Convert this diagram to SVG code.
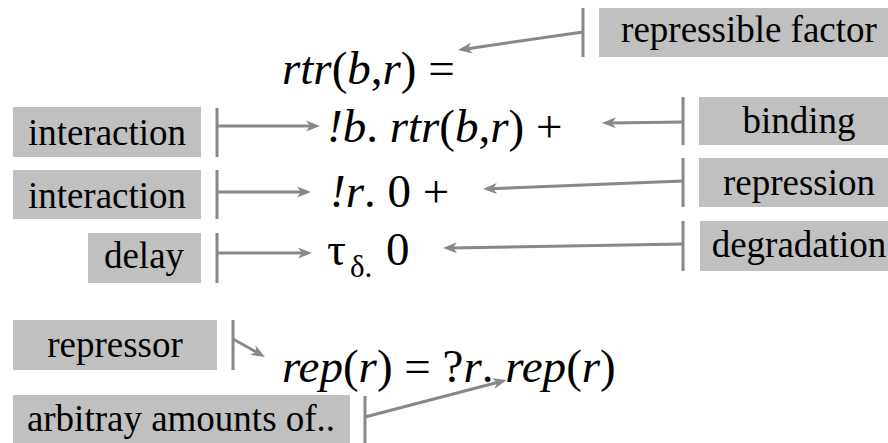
<svg xmlns="http://www.w3.org/2000/svg" width="888" height="443" viewBox="0 0 888 443">
<style>
.box{fill:#c0c0c0}
.lbl{font-family:'Liberation Serif','Times New Roman',serif;font-size:37px;fill:#000;text-anchor:middle}
.f{font-family:'Liberation Serif','Times New Roman',serif;font-size:47px;fill:#000}
.i{font-style:italic}
.c{stroke:#888;stroke-width:3;fill:none}
.a{marker-end:url(#ah)}
</style>
<defs>
<marker id="ah" markerUnits="userSpaceOnUse" markerWidth="15" markerHeight="12" refX="6" refY="6" orient="auto" viewBox="0 0 15 12">
<path d="M0,0.5 L14,6 L0,11.5 L4,6 Z" fill="#888"/>
</marker>
</defs>
<rect width="888" height="443" fill="#fff"/>

<g id="n-repressible-factor"><rect class="box" x="599" y="8" width="289" height="49"/><text class="lbl" x="749" y="42">repressible factor</text></g>
<g id="n-binding"><rect class="box" x="699" y="97" width="189" height="48"/><text class="lbl" x="799" y="133">binding</text></g>
<g id="n-repression"><rect class="box" x="699" y="158" width="189" height="49"/><text class="lbl" x="799" y="195">repression</text></g>
<g id="n-degradation"><rect class="box" x="700" y="221" width="188" height="50"/><text class="lbl" x="799" y="257">degradation</text></g>
<g id="n-interaction1"><rect class="box" x="13" y="107" width="188" height="50"/><text class="lbl" x="107" y="145">interaction</text></g>
<g id="n-interaction2"><rect class="box" x="13" y="170" width="188" height="49"/><text class="lbl" x="107" y="208">interaction</text></g>
<g id="n-delay"><rect class="box" x="88" y="233" width="113" height="50"/><text class="lbl" x="144" y="268">delay</text></g>
<g id="n-repressor"><rect class="box" x="13" y="320" width="204" height="50"/><text class="lbl" x="115" y="357">repressor</text></g>
<g id="n-arbitrary"><rect class="box" x="13" y="395" width="337" height="48"/><text class="lbl" x="181" y="431">arbitray amounts of..</text></g>

<g id="f-rtr"><text class="f" x="282" y="84"><tspan class="i">rtr</tspan>(<tspan class="i">b</tspan>,<tspan class="i">r</tspan>) =</text></g>
<g id="f-bind"><text class="f" x="327" y="142"><tspan class="i">!b</tspan>. <tspan class="i">rtr</tspan>(<tspan class="i">b</tspan>,<tspan class="i">r</tspan>) +</text></g>
<g id="f-repr"><text class="f" x="330" y="207"><tspan class="i">!r</tspan>. 0 +</text></g>
<g id="f-delay"><text class="f" y="265"><tspan x="327">τ</tspan><tspan x="350" y="277" font-size="31">δ.</tspan><tspan x="386" y="265">0</tspan></text></g>
<g id="f-rep"><text class="f" x="282" y="382"><tspan class="i">rep</tspan>(<tspan class="i">r</tspan>) = ?<tspan class="i">r</tspan>. <tspan class="i">rep</tspan>(<tspan class="i">r</tspan>)</text></g>

<g id="connectors">
<path class="c" d="M583,8V57M683,97V145M683,158V207M683,221V271M217,108V157M217,170V219M217,233V283M233,320V370M365,396V443"/>
<line class="c a" x1="583" y1="32" x2="466" y2="48.9"/>
<line class="c a" x1="683" y1="122" x2="610" y2="122.9"/>
<line class="c a" x1="683" y1="181" x2="491" y2="188.7"/>
<line class="c a" x1="683" y1="244" x2="451" y2="247.9"/>
<line class="c a" x1="217" y1="126" x2="312" y2="126"/>
<line class="c a" x1="217" y1="192" x2="303" y2="192"/>
<line class="c a" x1="217" y1="253" x2="304" y2="253"/>
<line class="c a" x1="233" y1="339" x2="258" y2="353"/>
<line class="c a" x1="365" y1="417" x2="499" y2="382"/>
</g>
</svg>
